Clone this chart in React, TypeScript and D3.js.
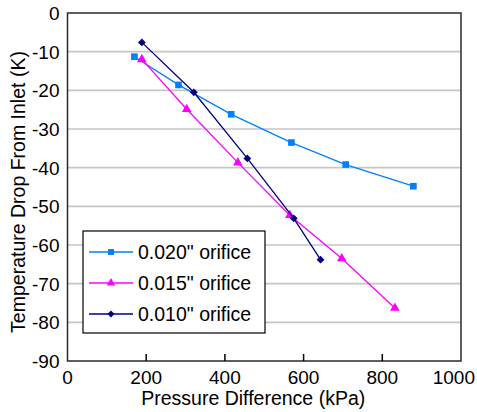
import * as d3 from "d3";
import { useEffect, useRef } from "react";

const seriesNames: string[] = ['0.020" orifice', '0.015" orifice', '0.010" orifice'];
const seriesColors: string[] = ["#0080ff", "#ff00ff", "#000080"];
const seriesSymbols = [d3.symbolSquare, d3.symbolTriangle, d3.symbolSquare];
const symbolRotate: number[] = [0, 0, 45];
const symbolSizes: number[] = [44, 40, 30];

const orifice020: [number, number][] = [
	[170, -11.3],
	[282, -18.6],
	[416, -26.2],
	[569, -33.5],
	[707, -39.2],
	[879, -44.8],
];
const orifice015: [number, number][] = [
	[189, -12.0],
	[303, -24.9],
	[433, -38.7],
	[565, -52.3],
	[697, -63.5],
	[832, -76.3],
];
const orifice010: [number, number][] = [
	[189, -7.6],
	[321, -20.5],
	[457, -37.6],
	[575, -53.1],
	[643, -63.8],
];
const allSeries = [orifice020, orifice015, orifice010];

const xTicks: number[] = [0, 200, 400, 600, 800, 1000];
const yTicks: number[] = [0, -10, -20, -30, -40, -50, -60, -70, -80, -90];

const W = 477;
const H = 412;
const FONT = "'Liberation Sans', Arial, sans-serif";

const App = () => {
	const svgRef = useRef<SVGSVGElement | null>(null);

	useEffect(() => {
		const margin = { top: 13, right: 16, bottom: 51, left: 67.5 };
		const width = W - margin.left - margin.right;
		const height = H - margin.top - margin.bottom;

		const svg = d3.select(svgRef.current);
		svg.selectAll("*").remove();
		const g = svg
			.append("g")
			.attr("transform", `translate(${margin.left},${margin.top})`);

		const x = d3.scaleLinear().domain([0, 1000]).range([0, width]);
		const y = d3.scaleLinear().domain([-90, 0]).range([height, 0]);

		// horizontal grid
		g.append("g")
			.selectAll("line")
			.data(yTicks.filter((t) => t !== 0 && t !== -90))
			.join("line")
			.attr("x1", 0)
			.attr("x2", width)
			.attr("y1", (d) => y(d))
			.attr("y2", (d) => y(d))
			.attr("stroke", "#c6c6c6")
			.attr("stroke-width", 1.6);

		// frame
		g.append("rect")
			.attr("width", width)
			.attr("height", height)
			.attr("fill", "none")
			.attr("stroke", "#2a2a2a")
			.attr("stroke-width", 1.5);

		// x axis ticks (inward) and labels
		const xAxis = g.append("g").attr("transform", `translate(0,${height})`);
		xAxis
			.selectAll("line")
			.data(xTicks.slice(1, -1))
			.join("line")
			.attr("x1", (d) => x(d))
			.attr("x2", (d) => x(d))
			.attr("y1", 0)
			.attr("y2", -7)
			.attr("stroke", "#000")
			.attr("stroke-width", 1.5);
		xAxis
			.selectAll("text")
			.data(xTicks)
			.join("text")
			// last label is pushed in so it stays inside the picture
			.attr("x", (d, i) => (i === xTicks.length - 1 ? width + margin.right - 2 : x(d)))
			.attr("y", 23)
			.attr("text-anchor", (d, i) => (i === xTicks.length - 1 ? "end" : "middle"))
			.style("font-family", FONT)
			.style("font-size", "19px")
			.attr("fill", "#000")
			.text((d) => String(d));

		g.append("text")
			.attr("x", width / 2 - 11)
			.attr("y", height + 44)
			.attr("text-anchor", "middle")
			.style("font-family", FONT)
			.style("font-size", "19.5px")
			.attr("fill", "#000")
			.text("Pressure Difference (kPa)");

		// y labels
		g.append("g")
			.selectAll("text")
			.data(yTicks)
			.join("text")
			.attr("x", -8)
			.attr("y", (d) => y(d) + 7)
			.attr("text-anchor", "end")
			.style("font-family", FONT)
			.style("font-size", "19px")
			.attr("fill", "#000")
			.text((d) => String(d));

		g.append("text")
			.attr("transform", `translate(${-43},${height / 2 + 5}) rotate(-90)`)
			.attr("text-anchor", "middle")
			.style("font-family", FONT)
			.style("font-size", "19.5px")
			.attr("fill", "#000")
			.text("Temperature Drop From Inlet (K)");

		// series
		const line = d3
			.line<[number, number]>()
			.x((d) => x(d[0]))
			.y((d) => y(d[1]));

		allSeries.forEach((data, i) => {
			g.append("path")
				.datum(data)
				.attr("fill", "none")
				.attr("stroke", seriesColors[i])
				.attr("stroke-width", 1.3)
				.attr("d", line);
			g.append("g")
				.selectAll("path")
				.data(data)
				.join("path")
				.attr(
					"transform",
					(d) => `translate(${x(d[0])},${y(d[1])}) rotate(${symbolRotate[i]})`
				)
				.attr("d", d3.symbol(seriesSymbols[i], symbolSizes[i])())
				.attr("fill", seriesColors[i]);
		});

		// legend
		const lg = svg.append("g").attr("transform", "translate(83,231)");
		lg.append("rect")
			.attr("width", 182)
			.attr("height", 102)
			.attr("fill", "#fff")
			.attr("stroke", "#000")
			.attr("stroke-width", 1.2);
		seriesNames.forEach((name, i) => {
			const row = lg.append("g").attr("transform", `translate(0,${21 + i * 31})`);
			row.append("line")
				.attr("x1", 6)
				.attr("x2", 50)
				.attr("stroke", seriesColors[i])
				.attr("stroke-width", 1.3);
			row.append("path")
				.attr("transform", `translate(28,0) rotate(${symbolRotate[i]})`)
				.attr("d", d3.symbol(seriesSymbols[i], symbolSizes[i] * 0.8)())
				.attr("fill", seriesColors[i]);
			row.append("text")
				.attr("x", 55)
				.attr("y", 7)
				.style("font-family", FONT)
				.style("font-size", "19.5px")
				.attr("fill", "#000")
				.text(name);
		});
	}, []);

	return (
		<svg
			ref={svgRef}
			width={W}
			height={H}
			style={{ position: "absolute", left: 0, top: 0, background: "#fff" }}
		/>
	);
};

export default App;
